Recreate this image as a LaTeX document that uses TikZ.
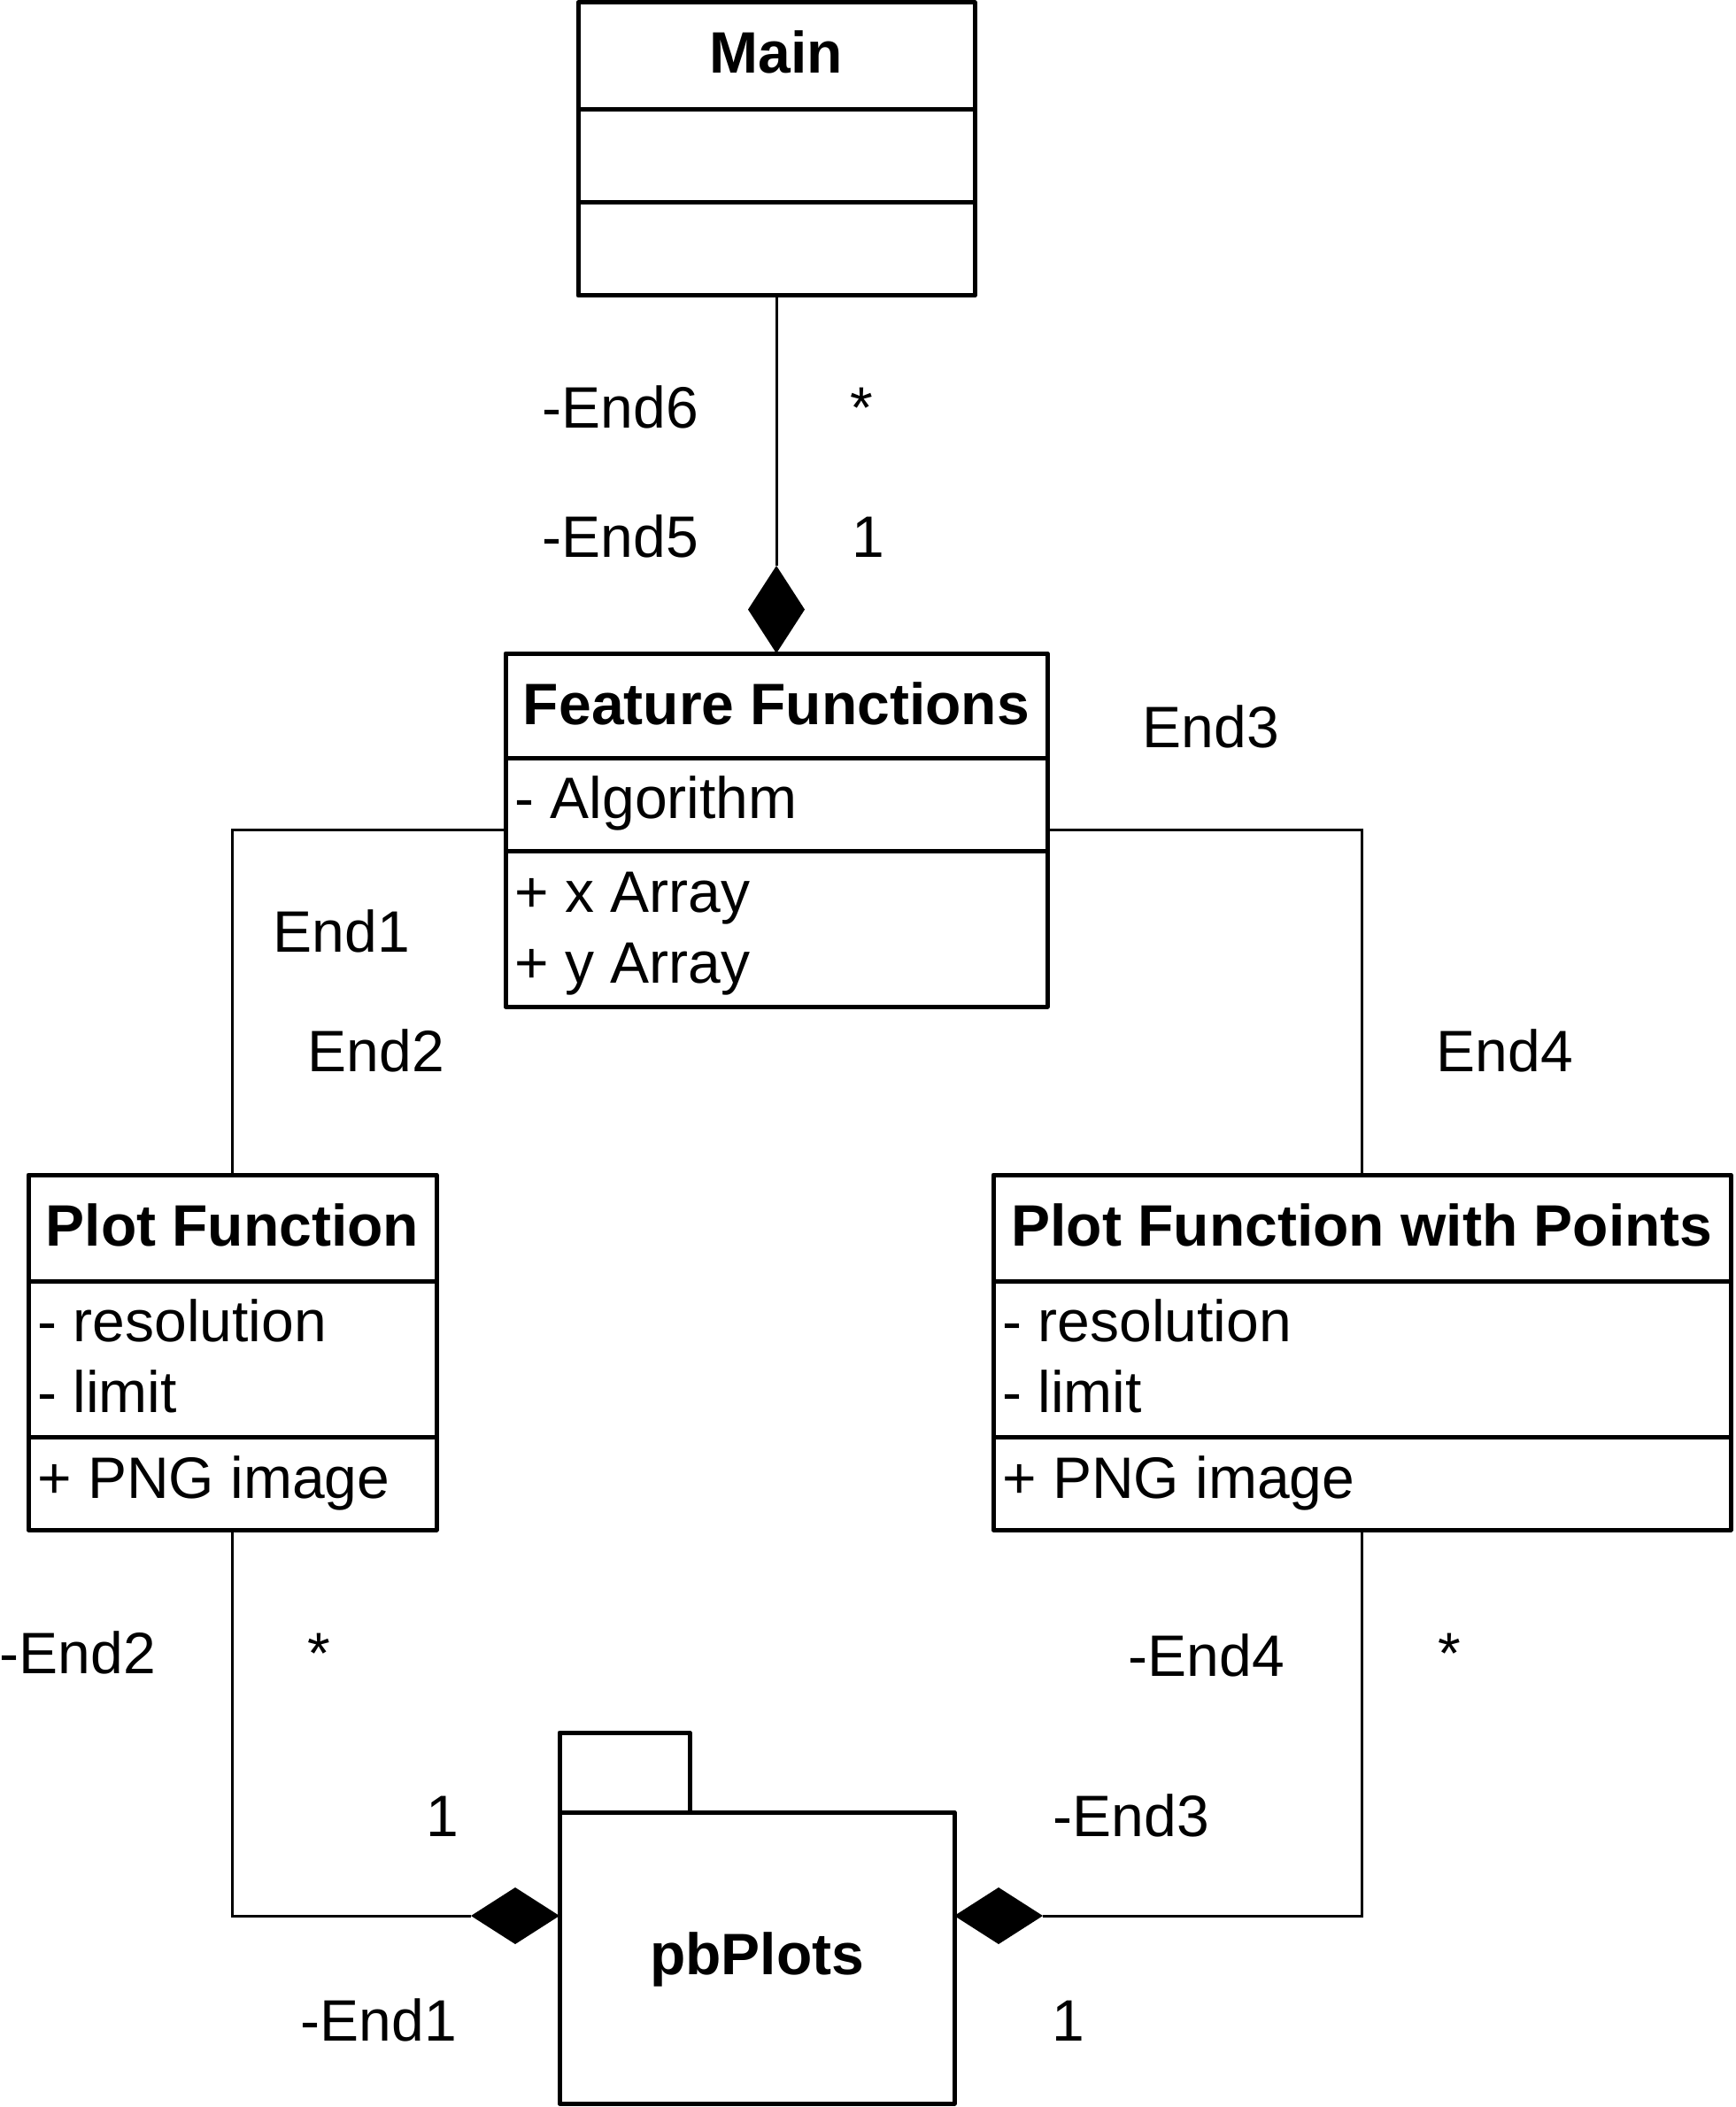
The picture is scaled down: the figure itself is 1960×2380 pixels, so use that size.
\documentclass[tikz,border=0pt]{standalone}
\usepackage{fontspec}
\setmainfont{Liberation Sans}
\usetikzlibrary{shapes.geometric}
\begin{document}
\begin{tikzpicture}[x=0.5pt,y=-0.5pt,
  every node/.style={font=\fontsize{33}{40}\selectfont},
  umlbox/.style={draw,line width=2.5pt,line join=round,rectangle,inner sep=0,outer sep=0},
  sep/.style={line width=2.5pt},
  conn/.style={line width=1.5pt},
  ttl/.style={anchor=base,inner sep=0,font=\fontsize{33}{40}\selectfont\bfseries},
  attr/.style={anchor=base west,inner sep=0},
  lbl/.style={anchor=base,inner sep=0},
  comp/.style={diamond,fill=black,draw=none,inner sep=0,outer sep=0}]
\useasboundingbox (0,0) rectangle (1960,2380);
% boxes
\node[umlbox,minimum width=224pt,minimum height=165.5pt] (main) at (877,168.5) {};
\node[umlbox,minimum width=306pt,minimum height=199.5pt] (ff) at (877,937.5) {};
\node[umlbox,minimum width=230.5pt,minimum height=200.5pt] (pf) at (262.5,1527.5) {};
\node[umlbox,minimum width=416.5pt,minimum height=200.5pt] (pfp) at (1538.5,1527.5) {};
\node[umlbox,minimum width=223pt,minimum height=164.5pt] (pkg) at (855,2211.5) {};
\node[umlbox,minimum width=73.5pt,minimum height=45pt] (tab) at (705.5,2002) {};
% compartments
\draw[sep] (main.west |- 0,124) -- (main.east |- 0,124);
\draw[sep] (main.west |- 0,229) -- (main.east |- 0,229);
\draw[sep] (ff.west |- 0,856) -- (ff.east |- 0,856);
\draw[sep] (ff.west |- 0,961) -- (ff.east |- 0,961);
\draw[sep] (pf.west |- 0,1447) -- (pf.east |- 0,1447);
\draw[sep] (pf.west |- 0,1623) -- (pf.east |- 0,1623);
\draw[sep] (pfp.west |- 0,1447) -- (pfp.east |- 0,1447);
\draw[sep] (pfp.west |- 0,1623) -- (pfp.east |- 0,1623);
% texts
\node[ttl] (mainT) at (877,83) {Main};
\node[ttl] (ffT) at (877,818) {Feature Functions};
\node[attr] (ffA) at (581,924) {- Algorithm};
\node[attr] (ffM1) at (581,1030) {+ x Array};
\node[attr] (ffM2) at (581,1110) {+ y Array};
\node[ttl] (pfT) at (262.5,1407) {Plot Function};
\node[attr] (pfA1) at (42,1515) {- resolution};
\node[attr] (pfA2) at (42,1595) {- limit};
\node[attr] (pfM) at (42,1692) {+ PNG image};
\node[ttl] (pfpT) at (1538.5,1407) {Plot Function with Points};
\node[attr] (pfpA1) at (1132,1515) {- resolution};
\node[attr] (pfpA2) at (1132,1595) {- limit};
\node[attr] (pfpM) at (1132,1692) {+ PNG image};
\node[ttl] (pkgT) at (855,2230) {pbPlots};
% diamonds
\node[comp,minimum width=32pt,minimum height=49.5pt] (d5) at (877,688.5) {};
\node[comp,minimum width=50pt,minimum height=32pt] (dl) at (582,2164) {};
\node[comp,minimum width=50pt,minimum height=32pt] (dr) at (1128,2164) {};
% connectors
\draw[conn] (main.south) -- (d5.north);
\draw[conn] (ff.west) -| (pf.north);
\draw[conn] (ff.east) -| (pfp.north);
\draw[conn] (pf.south) |- (dl.west);
\draw[conn] (pfp.south) |- (dr.east);
% labels
\node[lbl] (l6) at (701,483) {-End6};
\node[lbl] (s6) at (973,483) {*};
\node[lbl] (l5) at (701,629) {-End5};
\node[lbl] (o5) at (981,629) {1};
\node[lbl] (l3) at (1368,844) {End3};
\node[lbl] (l1) at (386,1075) {End1};
\node[lbl] (l2) at (425,1210) {End2};
\node[lbl] (l4) at (1700,1210) {End4};
\node[lbl] (m2) at (88,1890) {-End2};
\node[lbl] (s2) at (360,1890) {*};
\node[lbl] (m4) at (1363,1893) {-End4};
\node[lbl] (s4) at (1637,1890) {*};
\node[lbl] (o1) at (500,2074) {1};
\node[lbl] (m3) at (1278,2074) {-End3};
\node[lbl] (m1) at (428,2305) {-End1};
\node[lbl] (o3) at (1207,2305) {1};
\end{tikzpicture}
\end{document}
